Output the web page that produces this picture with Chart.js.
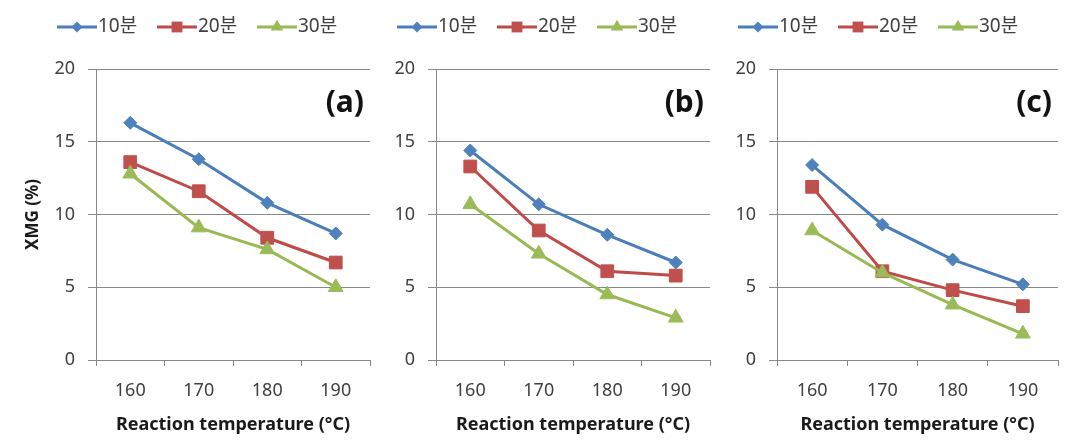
<!DOCTYPE html>
<html>
<head>
<meta charset="utf-8">
<script src="https://cdn.jsdelivr.net/npm/chart.js@4.4.1/dist/chart.umd.min.js"></script>
<style>
body { margin: 0; background: #fff; width: 1068px; height: 444px; position: relative; overflow: hidden; }
canvas { position: absolute; top: 0; }
</style>
</head>
<body>
<canvas id="chartA" width="380" height="444" style="left:0px"></canvas>
<canvas id="chartB" width="340" height="444" style="left:380px"></canvas>
<canvas id="chartC" width="348" height="444" style="left:720px"></canvas>
<script>
// categories / series
const temperatures = ['160', '170', '180', '190'];
const seriesNames = ['10분', '20분', '30분'];
const yTicks = [0, 5, 10, 15, 20];

// (a)
const a10 = [16.3, 13.8, 10.8, 8.7];
const a20 = [13.6, 11.6, 8.4, 6.7];
const a30 = [12.8, 9.1, 7.6, 5.0];
// (b)
const b10 = [14.4, 10.7, 8.6, 6.7];
const b20 = [13.3, 8.9, 6.1, 5.8];
const b30 = [10.7, 7.3, 4.5, 2.9];
// (c)
const c10 = [13.4, 9.3, 6.9, 5.2];
const c20 = [11.9, 6.1, 4.8, 3.7];
const c30 = [8.9, 6.0, 3.8, 1.8];

const FONT = '"Noto Sans", "Noto Sans CJK KR", sans-serif';
const GRID = '#888888';
const lineColors = ['#4A7EBB', '#BE4B48', '#98B954'];
const markColors = ['#4F81BD', '#C0504D', '#9BBB59'];
const markStyles = ['rectRot', 'rect', 'triangle'];
const markSizes = [6.5, 9, 8.5];

Chart.defaults.font.family = FONT;

function drawMarker(ctx, style, x, y, r, color) {
    ctx.save();
    ctx.fillStyle = color;
    ctx.beginPath();
    if (style === 'rectRot') {
        ctx.moveTo(x - r, y); ctx.lineTo(x, y - r); ctx.lineTo(x + r, y); ctx.lineTo(x, y + r);
    } else if (style === 'rect') {
        const s = r * Math.SQRT1_2;
        ctx.rect(x - s, y - s, 2 * s, 2 * s);
    } else {
        const h = r * 1.5, w = r * Math.sqrt(3) / 2;
        ctx.moveTo(x, y - r); ctx.lineTo(x + w, y + h - r); ctx.lineTo(x - w, y + h - r);
    }
    ctx.closePath();
    ctx.fill();
    ctx.restore();
}

// legend row and the (a)/(b)/(c) label, drawn on each panel
const panelDecor = {
    id: 'panelDecor',
    afterDraw(chart, args, opts) {
        const ctx = chart.ctx;
        const area = chart.chartArea;
        let x = area.left - 39;
        const y = 27;
        seriesNames.forEach((name, i) => {
            ctx.save();
            ctx.strokeStyle = lineColors[i];
            ctx.lineWidth = 3;
            ctx.beginPath();
            ctx.moveTo(x, y); ctx.lineTo(x + 40, y);
            ctx.stroke();
            ctx.restore();
            drawMarker(ctx, markStyles[i], x + 20, y, markSizes[i] * 0.85, markColors[i]);
            ctx.save();
            ctx.fillStyle = '#404040';
            ctx.font = '19px ' + FONT;
            ctx.textBaseline = 'middle';
            ctx.fillText(name, x + 41, y);
            ctx.restore();
            x += 100;
        });
        ctx.save();
        ctx.fillStyle = '#111';
        ctx.font = 'bold 30px ' + FONT;
        ctx.textAlign = 'right';
        ctx.textBaseline = 'middle';
        ctx.fillText(opts.label, area.right - 6, 103);
        ctx.restore();
    }
};

function makePanel(id, label, s10, s20, s30, axisWidth, padRight, showYTitle) {
    const values = [s10, s20, s30];
    const datasets = seriesNames.map((name, i) => ({
        label: name,
        data: values[i],
        borderColor: lineColors[i],
        backgroundColor: markColors[i],
        borderWidth: 3,
        pointStyle: markStyles[i],
        pointRadius: markSizes[i],
        pointBorderWidth: 1,
        pointBorderColor: markColors[i],
        pointBackgroundColor: markColors[i],
        tension: 0,
        order: 2 - i
    }));

    return new Chart(document.getElementById(id), {
        type: 'line',
        data: { labels: temperatures, datasets: datasets },
        options: {
            responsive: false,
            animation: false,
            layout: { padding: { left: 0, right: padRight, top: 69, bottom: 0 } },
            plugins: {
                legend: { display: false },
                tooltip: { enabled: false },
                panelDecor: { label: label }
            },
            scales: {
                x: {
                    offset: true,
                    grid: { offset: true, drawOnChartArea: false, tickLength: 6, color: GRID },
                    border: { color: GRID },
                    ticks: { color: '#404040', font: { size: 18 }, padding: 14 },
                    title: {
                        display: true,
                        text: 'Reaction temperature (°C)',
                        color: '#1a1a1a',
                        font: { size: 18, weight: 'bold' },
                        padding: { top: 0, bottom: 8 }
                    },
                    afterFit: scale => { scale.height = 84; }
                },
                y: {
                    min: 0,
                    max: 20,
                    afterBuildTicks: scale => { scale.ticks = yTicks.map(v => ({ value: v })); },
                    grid: { color: GRID, tickLength: 8 },
                    border: { color: GRID },
                    ticks: { color: '#404040', font: { size: 18 }, padding: 13 },
                    title: {
                        display: showYTitle,
                        text: 'XMG (%)',
                        color: '#1a1a1a',
                        font: { size: 17, weight: 'bold' },
                        padding: { top: 23, bottom: 0 }
                    },
                    afterFit: scale => { scale.width = axisWidth; }
                }
            }
        },
        plugins: [panelDecor]
    });
}

makePanel('chartA', '(a)', a10, a20, a30, 96, 0, true);
makePanel('chartB', '(b)', b10, b20, b30, 56, 0, false);
makePanel('chartC', '(c)', c10, c20, c30, 57, 7, false);
</script>
</body>
</html>
